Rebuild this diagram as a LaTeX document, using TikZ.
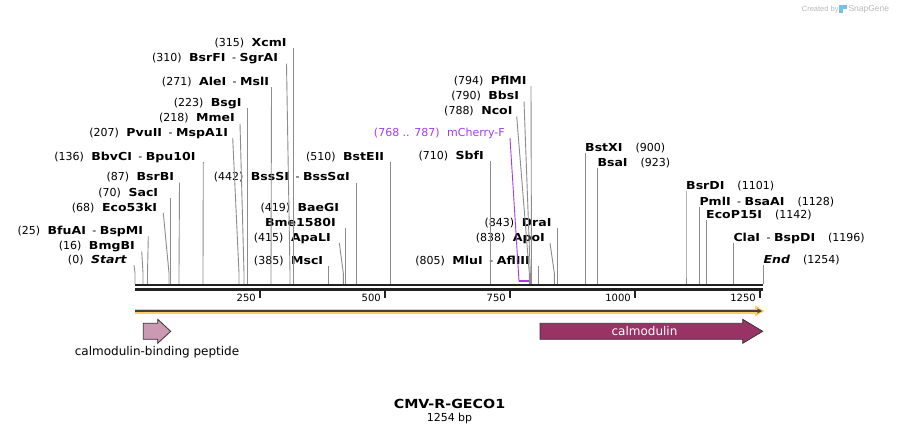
\documentclass[tikz,border=0pt]{standalone}
\usepackage{fontspec}
\setmainfont{DejaVu Sans}[BoldFeatures={FakeStretch=1.14}, BoldItalicFeatures={FakeStretch=1.14}]
\newfontfamily\wmfont{Liberation Sans}
\usetikzlibrary{positioning,calc,arrows.meta}

\definecolor{cutgray}{RGB}{140,140,140}
\definecolor{bbone}{RGB}{34,34,34}
\definecolor{featorange}{RGB}{255,204,102}
\definecolor{cbppink}{RGB}{204,153,178}
\definecolor{calmred}{RGB}{153,51,102}
\definecolor{primerpurple}{RGB}{163,60,240}
\definecolor{wmgray}{RGB}{185,185,185}
\definecolor{snapblue}{RGB}{120,190,240}

\newcommand{\egap}{\hspace{7.5pt}}
\newcommand{\edash}{\hspace{6.5pt}-\hspace{3.5pt}}

\begin{document}
\begin{tikzpicture}[x=1pt,y=-1pt]
        \tikzstyle{enz}=[inner sep=0pt, font=\fontsize{11}{13}\selectfont];
        \tikzstyle{lft}=[enz, anchor=base east];
        \tikzstyle{rgt}=[enz, anchor=base west];
        \tikzstyle{cut}=[cutgray, line width=0.9pt];
        \tikzstyle{tick}=[inner sep=0pt, font=\fontsize{10}{12}\selectfont, anchor=base east];
        \tikzstyle{feat}=[draw=black!80, line width=0.8pt];

        \useasboundingbox (0,0) rectangle (899,434);

        % labels left of their cut sites
        \node[lft] (start) at (127.3,263.3) {(0)\egap\textbf{\textit{Start}}};
        \node[lft] (bmgbi) at (135,249.3) {(16)\egap\textbf{BmgBI}};
        \node[lft] (bfuai) at (143.3,234.3) {(25)\egap\textbf{BfuAI}\edash\textbf{BspMI}};
        \node[lft] (ecoki) at (157.3,211) {(68)\egap\textbf{Eco53kI}};
        \node[lft] (saci) at (158.3,196) {(70)\egap\textbf{SacI}};
        \node[lft] (bsrbi) at (174.3,180.7) {(87)\egap\textbf{BsrBI}};
        \node[lft] (bbvci) at (195.7,160) {(136)\egap\textbf{BbvCI}\edash\textbf{Bpu10I}};
        \node[lft] (pvuii) at (228.3,136) {(207)\egap\textbf{PvuII}\edash\textbf{MspA1I}};
        \node[lft] (mmei) at (235,121.7) {(218)\egap\textbf{MmeI}};
        \node[lft] (bsgi) at (241.7,106) {(223)\egap\textbf{BsgI}};
        \node[lft] (alei) at (269.3,85) {(271)\egap\textbf{AleI}\edash\textbf{MslI}};
        \node[lft] (bsrfi) at (278.3,61.7) {(310)\egap\textbf{BsrFI}\edash\textbf{SgrAI}};
        \node[lft] (xcmi) at (286.7,46) {(315)\egap\textbf{XcmI}};
        \node[lft] (msci) at (323.3,264) {(385)\egap\textbf{MscI}};
        \node[lft] (apali) at (331,241) {(415)\egap\textbf{ApaLI}};
        \node[lft] (bme) at (336,226) {\textbf{Bme1580I}};
        \node[lft] (baegi) at (339.3,211) {(419)\egap\textbf{BaeGI}};
        \node[lft] (bsssi) at (350,180.7) {(442)\egap\textbf{BssSI}\edash\textbf{BssSαI}};
        \node[lft] (bsteii) at (384.3,160) {(510)\egap\textbf{BstEII}};
        \node[lft] (sbfi) at (484,159.3) {(710)\egap\textbf{SbfI}};
        \node[lft, text=primerpurple] (mchf) at (505,136) {(768 .. 787)\egap mCherry-F};
        \node[lft] (ncoi) at (512.7,114.3) {(788)\egap\textbf{NcoI}};
        \node[lft] (bbsi) at (519.3,99.3) {(790)\egap\textbf{BbsI}};
        \node[lft] (pflmi) at (526.7,84) {(794)\egap\textbf{PflMI}};
        \node[lft] (mlui) at (530,264) {(805)\egap\textbf{MluI}\edash\textbf{AflIII}};
        \node[lft] (apoi) at (545,241) {(838)\egap\textbf{ApoI}};
        \node[lft] (drai) at (551.7,226) {(843)\egap\textbf{DraI}};

        % labels right of their cut sites
        \node[rgt] (bstxi) at (585,151) {\textbf{BstXI}\hspace{13pt}(900)};
        \node[rgt] (bsai) at (597.3,166) {\textbf{BsaI}\hspace{13pt}(923)};
        \node[rgt] (bsrdi) at (686,189.3) {\textbf{BsrDI}\hspace{13pt}(1101)};
        \node[rgt] (pmli) at (699.3,205) {\textbf{PmlI}\edash\textbf{BsaAI}\hspace{13pt}(1128)};
        \node[rgt] (ecopi) at (706,218.3) {\textbf{EcoP15I}\hspace{13pt}(1142)};
        \node[rgt] (clai) at (733.3,241) {\textbf{ClaI}\edash\textbf{BspDI}\hspace{13pt}(1196)};
        \node[rgt] (end) at (763.3,263.3) {\textbf{\textit{End}}\hspace{13pt}(1254)};

        % line tops under the labels
        \coordinate (startT) at (134,265.3);   \coordinate (startC) at (135,284);
        \coordinate (bmgbiT) at (141.7,251.3); \coordinate (bmgbiC) at (143,284);
        \coordinate (bfuaiT) at (148.3,236.3); \coordinate (bfuaiC) at (147.5,284);
        \coordinate (ecokiT) at (163.3,213);   \coordinate (ecokiC) at (169,284);
        \coordinate (saciT) at (170.5,198);    \coordinate (saciC) at (170.5,284);
        \coordinate (bsrbiT) at (179.5,182.7); \coordinate (bsrbiC) at (179,284);
        \coordinate (bbvciT) at (203.3,162);   \coordinate (bbvciC) at (203,284);
        \coordinate (pvuiiT) at (232.7,138);   \coordinate (pvuiiC) at (239,284);
        \coordinate (mmeiT) at (240,123.7);    \coordinate (mmeiC) at (244,284);
        \coordinate (bsgiT) at (247.3,108);    \coordinate (bsgiC) at (247.3,284);
        \coordinate (aleiT) at (271.5,87);     \coordinate (aleiC) at (271,284);
        \coordinate (bsrfiT) at (286.5,63.7);  \coordinate (bsrfiC) at (290,284);
        \coordinate (xcmiT) at (293.3,48);     \coordinate (xcmiC) at (293.3,284);
        \coordinate (msciT) at (328.3,266);    \coordinate (msciC) at (328.3,284);
        \coordinate (apaliT) at (339.3,243);   \coordinate (apaliC) at (343.3,284);
        \coordinate (bmeT) at (345.7,228);     \coordinate (bmeC) at (345.7,284);
        \coordinate (bsssiT) at (356.7,182.7); \coordinate (bsssiC) at (356.7,284);
        \coordinate (bsteiiT) at (390.3,162);  \coordinate (bsteiiC) at (390.3,284);
        \coordinate (sbfiT) at (490.7,161.3);  \coordinate (sbfiC) at (490.7,284);
        \coordinate (ncoiT) at (516.7,116.3);  \coordinate (ncoiC) at (529.3,284);
        \coordinate (bbsiT) at (524,101.3);    \coordinate (bbsiC) at (530.3,284);
        \coordinate (pflmiT) at (531,86);      \coordinate (pflmiC) at (531.5,284);
        \coordinate (mluiT) at (538.3,266);    \coordinate (mluiC) at (538.3,284);
        \coordinate (apoiT) at (550,243);      \coordinate (apoiC) at (554.3,284);
        \coordinate (draiT) at (557.3,228);    \coordinate (draiC) at (557.3,284);
        \coordinate (bstxiT) at (585.3,153);   \coordinate (bstxiC) at (585.3,284);
        \coordinate (bsaiT) at (597.3,168);    \coordinate (bsaiC) at (597.3,284);
        \coordinate (bsrdiT) at (686,191.3);   \coordinate (bsrdiC) at (686,284);
        \coordinate (pmliT) at (699.3,207);    \coordinate (pmliC) at (699.3,284);
        \coordinate (ecopiT) at (706,220.3);   \coordinate (ecopiC) at (706,284);
        \coordinate (claiT) at (733.3,243);    \coordinate (claiC) at (733.3,284);
        \coordinate (endT) at (763.3,265.3);   \coordinate (endC) at (763.3,284);

        \foreach \e in {start,bmgbi,bfuai,ecoki,saci,bsrbi,bbvci,pvuii,mmei,bsgi,alei,bsrfi,xcmi,
                        msci,apali,bme,bsssi,bsteii,sbfi,ncoi,bbsi,pflmi,mlui,apoi,drai,
                        bstxi,bsai,bsrdi,pmli,ecopi,clai,end}
            \draw[cut] (\e T) -- ($(\e C)+(0,-11)$) -- (\e C);

        % primer
        \coordinate (mchfT) at (510,138);
        \coordinate (mchfA) at (519,281);
        \coordinate (mchfB) at (528.5,281);
        \draw[primerpurple, line width=0.9pt] (mchfT) -- (mchfA);
        \draw[primerpurple, line width=2pt] (mchfA) -- (mchfB);

        % backbone and ticks
        \coordinate (seqL) at (135,285);
        \coordinate (seqR) at (763.3,285);
        \draw[bbone, line width=2.6pt] (seqL) -- (seqR);
        \draw[bbone, line width=2.6pt] ($(seqL)+(0,4.2)$) -- ($(seqR)+(0,4.2)$);
        \foreach \p in {250,500,750,1000,1250} {
            \draw[bbone, line width=2pt] (135+\p/2,289) -- (135+\p/2,297.5);
            \node[tick] (tk\p) at (135+\p/2-4,301) {\p};
        }

        % feature track
        \draw[featorange, line width=5pt] (135,311) -- (757,311);
        \fill[featorange] (755,305.5) -- (764.5,311) -- (755,316.5) -- cycle;
        \draw[black!75, line width=1.3pt, -{Stealth[length=5pt,width=5pt]}] (135,311) -- (762,311);

        % features
        \draw[feat, fill=cbppink] (143.3,323.3) -- (157.7,323.3) -- (157.7,319.3) -- (170.7,331.3)
            -- (157.7,343.3) -- (157.7,339.3) -- (143.3,339.3) -- cycle;
        \node[inner sep=0pt, anchor=base, font=\fontsize{12}{14}\selectfont] (cbp) at (157,355.5) {calmodulin-binding peptide};
        \draw[feat, fill=calmred] (540,323.3) -- (742.7,323.3) -- (742.7,319.3) -- (762.7,331.3)
            -- (742.7,343.3) -- (742.7,339.3) -- (540,339.3) -- cycle;
        \node[inner sep=0pt, anchor=base, text=white, font=\fontsize{12}{14}\selectfont] (calm) at (644.5,335.3) {calmodulin};

        % title
        \node[inner sep=0pt, anchor=base, font=\fontsize{12.5}{15}\selectfont\bfseries] (title) at (449.5,408.3) {CMV-R-GECO1};
        \node[inner sep=0pt, anchor=base, font=\fontsize{11}{13}\selectfont] (len) at (449.5,421.7) {1254 bp};

        % watermark
        \node[inner sep=0pt, anchor=base west, text=wmgray, font=\wmfont\fontsize{7.5}{9}\selectfont] (wm1) at (801.7,11) {Created by};
        \fill[snapblue] (839,4.5) rectangle (847,9);
        \fill[snapblue] (839,4.5) rectangle (842.5,12.5);
        \node[inner sep=0pt, anchor=base west, text=wmgray, font=\wmfont\fontsize{8.5}{10}\selectfont] (wm2) at (848.3,11) {SnapGene};
\end{tikzpicture}
\end{document}
